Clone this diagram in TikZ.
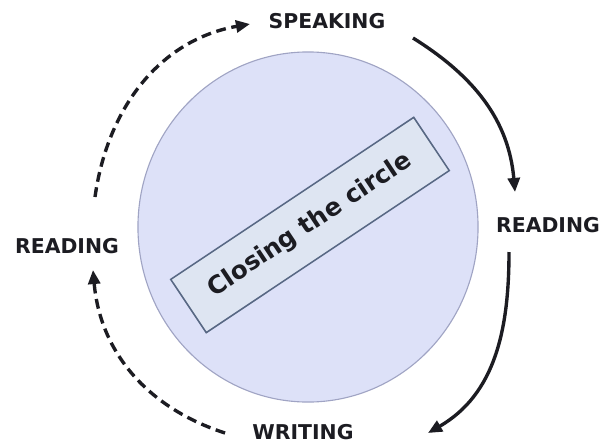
\documentclass[tikz,border=0pt]{standalone}
\usepackage{fontspec}
\setmainfont{DejaVu Sans}
\usetikzlibrary{arrows.meta,shapes.geometric}
\definecolor{ringfill}{RGB}{221,225,248}
\definecolor{ringline}{RGB}{160,164,196}
\definecolor{tagfill}{RGB}{222,229,242}
\definecolor{tagline}{RGB}{88,104,132}
\definecolor{ink}{RGB}{28,28,34}
\begin{document}
\begin{tikzpicture}[x=0.025cm,y=0.025cm,>={Triangle[length=10pt,width=8.5pt]},skill/.style={font=\fontsize{14.5}{17}\selectfont\bfseries,text=ink,inner sep=2pt},flow/.style={->,ink,line width=2.4pt},dflow/.style={flow,dash pattern=on 7pt off 4pt}]
\useasboundingbox (0,0) rectangle (605,443);
\node[ellipse,draw=ringline,fill=ringfill,line width=.8pt,minimum width=8.5cm,minimum height=8.75cm] (ring) at (308,216) {};
\node[draw=tagline,fill=tagfill,line width=1.1pt,rotate=33.7,minimum width=7.3cm,minimum height=1.6cm,text=ink,font=\fontsize{17.5}{20}\selectfont\bfseries] (tag) at (310,218) {Closing the circle};
\node[skill] (sp) at (327,422) {SPEAKING};
\node[skill] (rr) at (548,218) {READING};
\node[skill] (wr) at (303,11) {WRITING};
\node[skill] (rl) at (67,197) {READING};
\draw[dflow] ([shift={(28,49)}]rl.center) to[out=82,in=190] ([shift={(-77,-3)}]sp.center);
\draw[flow] ([shift={(86,-17)}]sp.center) to[out=-32,in=95] ([shift={(-33,33)}]rr.center);
\draw[flow] ([shift={(-39,-27)}]rr.center) to[out=-90,in=30] ([shift={(125,-1)}]wr.center);
\draw[dflow] ([shift={(-78,-1)}]wr.center) to[out=162,in=-85] ([shift={(26,-24)}]rl.center);
\end{tikzpicture}
\end{document}
